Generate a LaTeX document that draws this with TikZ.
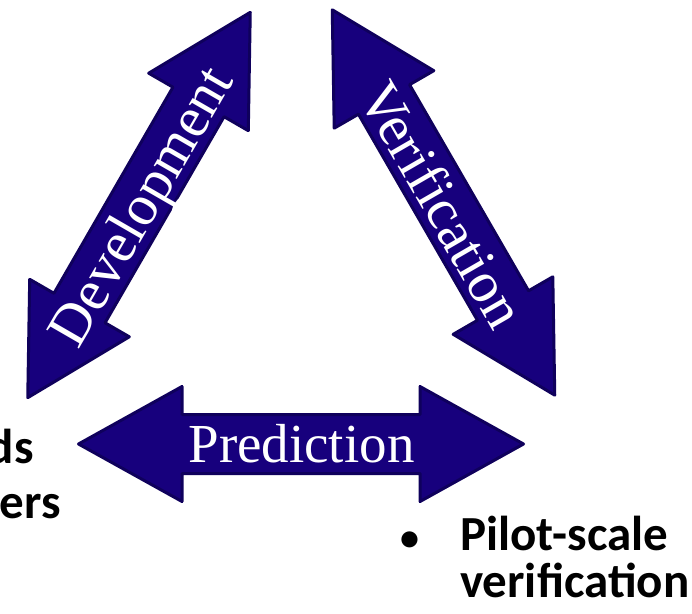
\documentclass[tikz,border=0pt]{standalone}
\usepackage{fontspec}
\setmainfont{Liberation Serif}
\newfontfamily\bulletsans{Carlito}

\definecolor{arrowfill}{HTML}{17007D}
\definecolor{arrowedge}{HTML}{0F005C}

\tikzset{
  arrowbody/.style={fill=arrowfill, draw=arrowedge, line width=3pt, line join=round},
  % double-headed block arrow, centred on the origin, pointing along x
  dblarrow/.pic={
    \draw[arrowbody] (222.5,0) -- (119,57.5) -- (119,29.5) -- (-119,29.5)
      -- (-119,57.5) -- (-222.5,0) -- (-119,-57.5) -- (-119,-29.5)
      -- (119,-29.5) -- (119,-57.5) -- cycle;
  },
  arrowlabel/.style={text=white, inner sep=0pt, text depth=0pt},
  biglabel/.style={arrowlabel, text height=38.2pt, font=\fontsize{57.7}{58}\selectfont},
  flatlabel/.style={arrowlabel, text height=36.4pt, font=\fontsize{55}{55}\selectfont},
  pointtext/.style={text=black, inner sep=0pt,
    font=\bulletsans\bfseries\fontsize{49}{49}\selectfont},
  bulletmark/.style={text=black, inner sep=0pt,
    font=\bulletsans\bfseries\fontsize{38}{38}\selectfont},
}

\begin{document}
\begin{tikzpicture}[x=1pt,y=1pt]
  \useasboundingbox (0,0) rectangle (692,613);

  % the three block arrows of the cycle
  \pic (devarrow) at (139,408) [rotate=60] {dblarrow};
  \pic (verarrow) at (443.5,410.5) [rotate=-60] {dblarrow};
  \pic (predarrow) at (301,169) {dblarrow};

  % arrow labels
  \node[biglabel, rotate=60] (dev) at (140,407) {Development};
  \node[biglabel, rotate=-60] (ver) at (442,408.5) {Verification};
  \node[flatlabel] (pred) at (301.5,169) {Prediction};

  % bullet text at the left edge
  \node[pointtext, anchor=base east] (lefta) at (34,150) {ds};
  \node[pointtext, anchor=base east] (leftb) at (61,95) {ers};

  % bullet text at the lower right
  \node[bulletmark, anchor=base west] (bullet) at (400,63) {•};
  \node[pointtext, anchor=base west] (pilota) at (460,63) {Pilot-scale};
  \node[pointtext, anchor=base west] (pilotb) at (460,16) {verification};
\end{tikzpicture}
\end{document}
